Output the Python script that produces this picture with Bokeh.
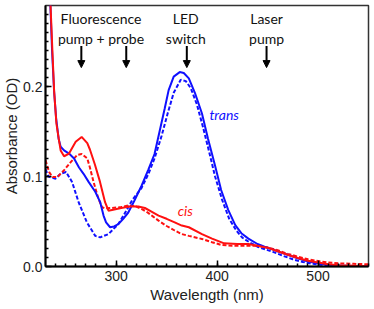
from bokeh.plotting import figure
from bokeh.models import FixedTicker, PrintfTickFormatter, Arrow, NormalHead, ColumnDataSource
from bokeh.core.properties import value
from bokeh.embed import file_html
from bokeh.resources import INLINE

# ---- data ----
cis_wl = [231, 233, 235, 237, 238.6, 240.8, 242.8, 245, 248.4, 253.3, 259.9, 265.8, 271.4, 274, 279, 284,
          289, 292.4, 297, 305, 315, 322, 328.5, 335, 342, 350, 358, 365, 372, 385, 395, 407, 420, 431,
          440, 451, 460, 470, 480, 490, 500, 510, 520, 535, 550]
cis_abs = [0.42, 0.36, 0.29, 0.235, 0.194, 0.159, 0.144, 0.129, 0.1225, 0.1255, 0.1385, 0.144, 0.137, 0.130,
           0.113, 0.094, 0.0715, 0.062, 0.063, 0.065, 0.067, 0.0667, 0.065, 0.061, 0.0566, 0.053, 0.049,
           0.0455, 0.0436, 0.036, 0.031, 0.0257, 0.025, 0.025, 0.023, 0.0205, 0.017, 0.013, 0.0095, 0.0063,
           0.0045, 0.0026, 0.0015, 0.0008, 0.0004]

cis2_wl = [230, 233.6, 236.9, 241.8, 248.4, 255, 261.5, 265.8, 271.4, 274, 277.6, 282.5, 286, 289, 295, 305,
           313, 319, 325, 330, 336, 342, 350, 358, 365, 372, 385, 395, 404, 415, 427, 440, 451, 460, 470,
           480, 490, 500, 510, 520, 535, 550]
cis2_abs = [0.118, 0.105, 0.0994, 0.0994, 0.107, 0.116, 0.124, 0.125, 0.12, 0.11, 0.094, 0.075, 0.066,
            0.0645, 0.065, 0.066, 0.068, 0.067, 0.064, 0.061, 0.056, 0.051, 0.045, 0.040, 0.036, 0.034,
            0.0306, 0.027, 0.024, 0.023, 0.023, 0.023, 0.021, 0.018, 0.014, 0.011, 0.008, 0.006, 0.0045,
            0.0035, 0.003, 0.0025]

trans_wl = [230.5, 232.5, 234.5, 236.5, 238.5, 240.5, 243, 245, 248.4, 253.3, 258.3, 263.2, 267.7, 272.7,
            279.3, 284.2, 287.5, 290, 294, 298, 302.2, 307, 312, 318, 325.3, 332, 338, 343, 348, 352, 357,
            363, 367, 372, 378, 385, 391, 398, 404, 411, 418, 424, 431, 440, 447, 455, 462, 470, 480, 490,
            500, 510, 520, 535, 550]
trans_abs = [0.42, 0.36, 0.30, 0.24, 0.195, 0.165, 0.142, 0.133, 0.129, 0.1255, 0.12, 0.11, 0.103, 0.094,
             0.083, 0.0715, 0.0566, 0.049, 0.0436, 0.0445, 0.047, 0.053, 0.060, 0.073, 0.090, 0.108, 0.125,
             0.150, 0.175, 0.196, 0.211, 0.216, 0.215, 0.209, 0.193, 0.170, 0.142, 0.112, 0.085, 0.063,
             0.046, 0.037, 0.031, 0.025, 0.022, 0.019, 0.016, 0.013, 0.009, 0.0056, 0.0035, 0.002, 0.0012,
             0.0005, 0.0003]

trans2_wl = [230, 233, 237, 240, 244.8, 250.4, 256.3, 262.8, 271, 279.3, 284.2, 292.4, 302, 308, 316, 325,
             332, 338, 345, 351, 357, 364, 369, 374, 380, 386, 392, 398, 405, 412, 419, 425, 432, 440, 448,
             456, 465, 475, 485, 495, 505, 520, 535, 550]
trans2_abs = [0.108, 0.1, 0.0985, 0.0976, 0.103, 0.105, 0.094, 0.0715, 0.049, 0.034, 0.0324, 0.036, 0.047,
              0.058, 0.074, 0.087, 0.103, 0.12, 0.145, 0.17, 0.193, 0.2075, 0.206, 0.198, 0.18, 0.155, 0.128,
              0.1, 0.074, 0.053, 0.04, 0.032, 0.027, 0.022, 0.019, 0.016, 0.012, 0.008, 0.005, 0.003, 0.0015,
              0.0008, 0.0004, 0.0003]

x_ticks = [300, 400, 500]
x_minor = list(range(240, 551, 10))
y_ticks = [0.0, 0.1, 0.2]
y_minor = [i / 100 for i in range(1, 29)]

arrow_wl = [265.5, 310, 370, 449]
arrow_top, arrow_tip = 0.245, 0.221

note_x = [285, 285, 369, 369, 449, 449]
note_y = [0.276, 0.2536, 0.276, 0.2536, 0.276, 0.2536]
note_text = ["Fluorescence", "pump + probe", "LED", "switch", "Laser", "pump"]

BLUE = "#1010ff"
RED = "#ff1010"

p = figure(width=372, height=305, x_range=(230, 550), y_range=(0, 0.29),
           output_backend="svg", toolbar_location=None,
           min_border_left=0, min_border_right=4, min_border_top=5, min_border_bottom=0)
p.xgrid.visible = False
p.ygrid.visible = False
p.outline_line_color = "#333333"
p.outline_line_width = 1.5
p.background_fill_color = "white"
p.border_fill_color = "white"

p.line(trans2_wl, trans2_abs, color=BLUE, line_width=2, line_dash="4 2")
p.line(cis2_wl, cis2_abs, color=RED, line_width=2, line_dash="4 2")
p.line(trans_wl, trans_abs, color=BLUE, line_width=2)
p.line(cis_wl, cis_abs, color=RED, line_width=2)

for w in arrow_wl:
    p.add_layout(Arrow(end=NormalHead(size=7, fill_color="black", line_color="black", line_width=1),
                       x_start=w, y_start=arrow_top, x_end=w, y_end=arrow_tip,
                       line_width=2, line_color="black"))

src = ColumnDataSource(dict(x=note_x, y=note_y, t=note_text))
p.text(x="x", y="y", text="t", source=src, text_font=value("Lato"), text_font_size="14px",
       text_align="center", text_baseline="middle", text_color="#111111")

p.text(x=[407], y=[0.169], text=["trans"], text_font=value("Lato"), text_font_size="14px",
       text_font_style="italic", text_align="center", text_baseline="middle", text_color=BLUE)
p.text(x=[368.5], y=[0.0626], text=["cis"], text_font=value("Lato"), text_font_size="14px",
       text_font_style="italic", text_align="center", text_baseline="middle", text_color=RED)

p.xaxis.ticker = FixedTicker(ticks=x_ticks, minor_ticks=x_minor)
p.yaxis.ticker = FixedTicker(ticks=y_ticks, minor_ticks=y_minor)
p.yaxis.formatter = PrintfTickFormatter(format="%.1f")
p.xaxis.axis_label = "Wavelength (nm)"
p.yaxis.axis_label = "Absorbance (OD)"

for ax in (p.xaxis, p.yaxis):
    ax.axis_line_color = "black"
    ax.axis_line_width = 2
    ax.major_tick_in = 6
    ax.major_tick_out = 0
    ax.minor_tick_in = 3
    ax.minor_tick_out = 0
    ax.major_tick_line_color = "black"
    ax.minor_tick_line_color = "black"
    ax.major_tick_line_width = 1.5
    ax.minor_tick_line_width = 1.5
    ax.major_label_text_font = "Liberation Sans"
    ax.major_label_text_font_size = "14px"
    ax.major_label_text_color = "#222222"
    ax.axis_label_text_font = "Liberation Sans"
    ax.axis_label_text_font_size = "15px"
    ax.axis_label_text_font_style = "normal"
    ax.axis_label_text_color = "#222222"

p.xaxis.major_label_standoff = 4
p.xaxis.axis_label_standoff = 2
p.yaxis.major_label_standoff = 3
p.yaxis.axis_label_standoff = 0

open("out.html", "w").write(file_html(p, INLINE))
